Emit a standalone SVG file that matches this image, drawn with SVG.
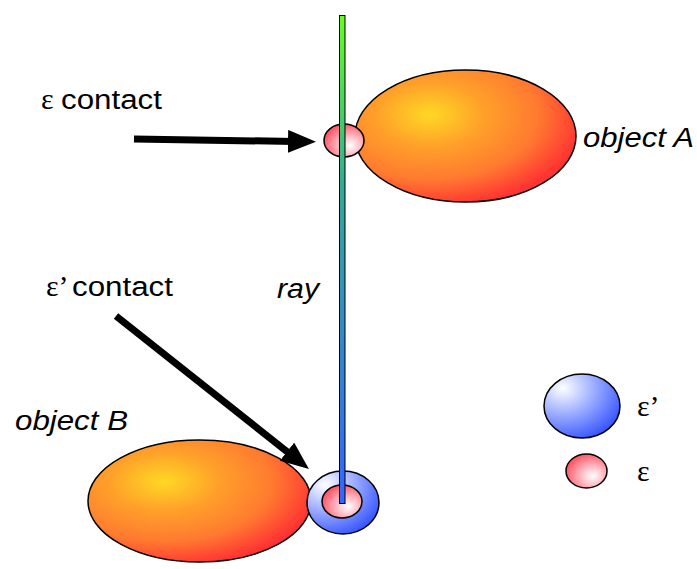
<svg xmlns="http://www.w3.org/2000/svg" width="697" height="569" viewBox="0 0 697 569">
<defs>
<radialGradient id="gOrange" cx="0.34" cy="0.34" fx="0.34" fy="0.34" r="0.7">
<stop offset="0" stop-color="#ffd824"/>
<stop offset="0.35" stop-color="#ffa02a"/>
<stop offset="0.7" stop-color="#ff7a30"/>
<stop offset="1" stop-color="#ff3333"/>
</radialGradient>
<radialGradient id="gBlue" cx="0.25" cy="0.22" fx="0.25" fy="0.22" r="0.95">
<stop offset="0" stop-color="#ffffff"/>
<stop offset="0.45" stop-color="#99aaff"/>
<stop offset="1" stop-color="#2244ff"/>
</radialGradient>
<radialGradient id="gRed" cx="0.65" cy="0.65" fx="0.65" fy="0.65" r="0.7">
<stop offset="0" stop-color="#ffffff"/>
<stop offset="0.5" stop-color="#ffaab4"/>
<stop offset="1" stop-color="#ff4e5e"/>
</radialGradient>
<linearGradient id="gRay" x1="0" y1="0" x2="0" y2="1">
<stop offset="0" stop-color="#66ff22"/>
<stop offset="0.35" stop-color="#33aa99"/>
<stop offset="1" stop-color="#3366ff"/>
</linearGradient>
<marker id="head" viewBox="0 0 28 23" refX="7" refY="11.5" markerWidth="28" markerHeight="23" markerUnits="userSpaceOnUse" orient="auto">
<path d="M0,0 L28,11.5 L0,23 z" fill="#000"/>
</marker>
</defs>
<style>
.obj{fill:url(#gOrange);stroke:#000;stroke-width:1.5}
.blue{fill:url(#gBlue);stroke:#000;stroke-width:1.5}
.red{fill:url(#gRed);stroke:#000;stroke-width:1.5}
.lbl{font-family:"Liberation Sans",Arial,sans-serif;font-size:27px;fill:#000}
.it{font-style:italic}
.eps{font-family:"Liberation Serif","Times New Roman",serif;font-size:30px;fill:#000}
.arr{stroke:#000;stroke-width:7;fill:none;marker-end:url(#head)}
</style>
<g id="objectA">
<ellipse class="obj" cx="465.5" cy="136" rx="110.5" ry="66"/>
<text class="lbl it" x="583" y="147" textLength="111" lengthAdjust="spacingAndGlyphs">object A</text>
</g>
<g id="objectB">
<ellipse class="obj" cx="199.5" cy="501" rx="111.5" ry="61"/>
<text class="lbl it" x="15" y="430" textLength="113" lengthAdjust="spacingAndGlyphs">object B</text>
</g>
<g id="epsPrimeB">
<ellipse class="blue" cx="343" cy="502.5" rx="36" ry="31.5"/>
</g>
<g id="epsB">
<ellipse class="red" cx="342" cy="501.5" rx="20" ry="16.5"/>
</g>
<g id="epsA">
<ellipse class="red" cx="344" cy="140.5" rx="20" ry="16.5"/>
</g>
<g id="ray">
<rect x="339.5" y="15.5" width="5.5" height="488" fill="url(#gRay)" stroke="#000" stroke-width="1"/>
<text class="lbl it" x="277" y="298" textLength="42" lengthAdjust="spacingAndGlyphs">ray</text>
</g>
<g id="labelEps">
<text class="eps" x="41" y="109">ε</text>
<text class="lbl" x="61" y="109" textLength="101" lengthAdjust="spacingAndGlyphs">contact</text>
</g>
<g id="labelEpsPrime">
<text class="eps" x="46" y="296">ε’</text>
<text class="lbl" x="72" y="296" textLength="101" lengthAdjust="spacingAndGlyphs">contact</text>
</g>
<g id="legend">
<ellipse class="blue" cx="582" cy="406" rx="38" ry="32"/>
<text class="eps" x="637" y="416">ε’</text>
<ellipse class="red" cx="586.5" cy="471" rx="20.5" ry="17"/>
<text class="eps" x="637" y="481">ε</text>
</g>
<g id="connectors">
<line class="arr" x1="134" y1="139" x2="295" y2="141.5"/>
<line class="arr" x1="116" y1="316" x2="292.5" y2="456"/>
</g>
</svg>
